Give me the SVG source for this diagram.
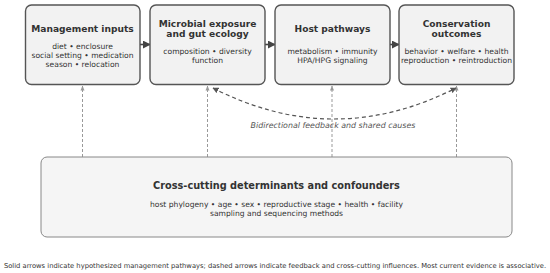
<svg xmlns="http://www.w3.org/2000/svg" width="550" height="273" viewBox="0 0 550 273">
<defs>
<style>
text{font-family:"DejaVu Sans","Liberation Sans",sans-serif;fill:#333;text-anchor:middle}
.box{fill:#f2f2f2;stroke:#555;stroke-width:1.4}
.big{fill:#f5f5f5;stroke:#888;stroke-width:1}
.t{font-weight:bold;font-size:9.1px}
.d{font-size:7.6px}
.solid{stroke:#444;stroke-width:1.6;fill:none}
.vd{stroke:#999;stroke-width:1;stroke-dasharray:3 2;fill:none}
.cd{stroke:#555;stroke-width:1.2;stroke-dasharray:4 3;fill:none}
</style>
<marker id="ah" viewBox="0 0 10 10" refX="9" refY="5" markerWidth="5" markerHeight="5" orient="auto"><path d="M0,0 L10,5 L0,10 z" fill="#444"/></marker>
<marker id="ahg" viewBox="0 0 10 10" refX="9" refY="5" markerWidth="5" markerHeight="5" orient="auto"><path d="M0,1 L10,5 L0,9 z" fill="#999"/></marker>
<marker id="ahc" viewBox="0 0 10 10" refX="9" refY="5" markerWidth="5" markerHeight="5" orient="auto-start-reverse"><path d="M0,0 L10,5 L0,10 z" fill="#555"/></marker>
</defs>
<g id="connectors">
<line class="solid" x1="140" y1="44.5" x2="150" y2="44.5" marker-end="url(#ah)"/>
<line class="solid" x1="265" y1="44.5" x2="275" y2="44.5" marker-end="url(#ah)"/>
<line class="solid" x1="390" y1="44.5" x2="399" y2="44.5" marker-end="url(#ah)"/>
<line class="vd" x1="82.5" y1="157" x2="82.5" y2="86" marker-end="url(#ahg)"/>
<line class="vd" x1="207.5" y1="157" x2="207.5" y2="86" marker-end="url(#ahg)"/>
<line class="vd" x1="332" y1="157" x2="332" y2="86" marker-end="url(#ahg)"/>
<line class="vd" x1="456.5" y1="157" x2="456.5" y2="86" marker-end="url(#ahg)"/>
<path class="cd" d="M213,88 Q334,150 456,88" marker-start="url(#ahc)" marker-end="url(#ahc)"/>
<text x="333" y="128" style="font-size:7.9px;font-style:italic;fill:#555">Bidirectional feedback and shared causes</text>
</g>
<g id="management">
<rect class="box" x="25.5" y="5" width="114.5" height="79.5" rx="6"/>
<text class="t" x="82.5" y="31.5">Management inputs</text>
<text class="d" x="82.5" y="49">diet • enclosure</text>
<text class="d" x="82.5" y="58">social setting • medication</text>
<text class="d" x="82.5" y="67">season • relocation</text>
</g>
<g id="microbial">
<rect class="box" x="150" y="5" width="115" height="79.5" rx="6"/>
<text class="t" x="207.5" y="26.5">Microbial exposure</text>
<text class="t" x="207.5" y="37">and gut ecology</text>
<text class="d" x="207.5" y="54">composition • diversity</text>
<text class="d" x="207.5" y="63">function</text>
</g>
<g id="host">
<rect class="box" x="275" y="5" width="115" height="79.5" rx="6"/>
<text class="t" x="332.5" y="31.5">Host pathways</text>
<text class="d" x="332.5" y="54">metabolism • immunity</text>
<text class="d" x="332.5" y="63">HPA/HPG signaling</text>
</g>
<g id="conservation">
<rect class="box" x="399" y="5" width="115" height="79.5" rx="6"/>
<text class="t" x="456.5" y="26.5">Conservation</text>
<text class="t" x="456.5" y="37">outcomes</text>
<text class="d" x="456.5" y="54">behavior • welfare • health</text>
<text class="d" x="456.5" y="63">reproduction • reintroduction</text>
</g>
<g id="crosscutting">
<rect class="big" x="41" y="157" width="471" height="80" rx="6"/>
<text class="t" x="276.5" y="188.5" style="font-size:9.75px">Cross-cutting determinants and confounders</text>
<text class="d" x="276.5" y="207">host phylogeny • age • sex • reproductive stage • health • facility</text>
<text class="d" x="276.5" y="216">sampling and sequencing methods</text>
</g>
<text x="275" y="268" style="font-size:6.75px">Solid arrows indicate hypothesized management pathways; dashed arrows indicate feedback and cross-cutting influences. Most current evidence is associative.</text>
</svg>
